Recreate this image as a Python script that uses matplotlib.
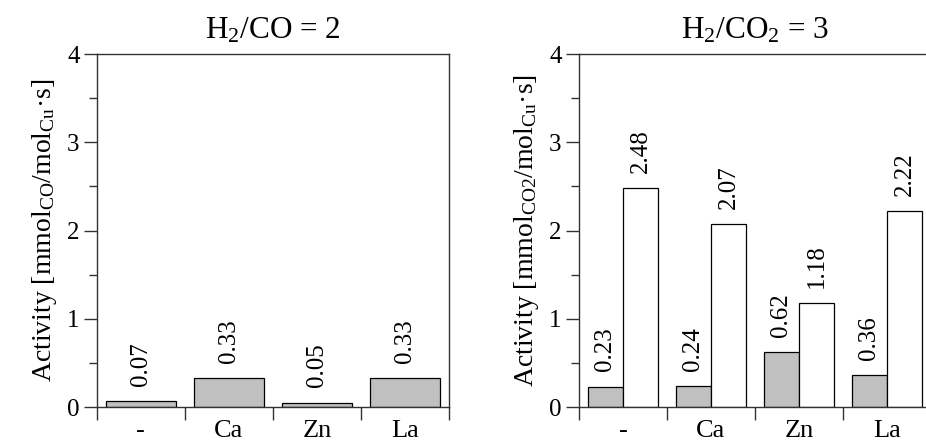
import matplotlib
matplotlib.use("Agg")
import matplotlib.pyplot as plt
import numpy as np
from matplotlib.ticker import MultipleLocator

plt.rcParams["font.family"] = ["Liberation Serif", "DejaVu Serif"]
plt.rcParams["mathtext.fontset"] = "custom"
plt.rcParams["mathtext.rm"] = "Liberation Serif"
plt.rcParams["mathtext.it"] = "Liberation Serif:italic"

# data
promoters = ["-", "Ca", "Zn", "La"]
co_activity = [0.07, 0.33, 0.05, 0.33]
co2_gray = [0.23, 0.24, 0.62, 0.36]
co2_white = [2.48, 2.07, 1.18, 2.22]

LINE = "#333333"
GRAY = "#c0c0c0"


def style_axes(ax, title, ylabel):
    ax.set_xlim(0, len(promoters))
    ax.set_ylim(0, 4)
    for s in ax.spines.values():
        s.set_color(LINE)
        s.set_linewidth(1.0)
    # category separators below axis, labels at centers
    ax.set_xticks(np.arange(len(promoters) + 1))
    ax.set_xticklabels([])
    ax.set_xticks(np.arange(len(promoters)) + 0.5, minor=True)
    ax.set_xticklabels(promoters, minor=True, fontsize=19)
    ax.tick_params(axis="x", which="major", direction="out", length=9.5,
                   width=1.0, color=LINE)
    ax.tick_params(axis="x", which="minor", length=0, pad=9)
    ax.yaxis.set_major_locator(MultipleLocator(1))
    ax.yaxis.set_minor_locator(MultipleLocator(0.5))
    ax.tick_params(axis="y", which="major", direction="out", length=9.5,
                   width=1.0, color=LINE, labelsize=18, pad=3)
    ax.tick_params(axis="y", which="minor", direction="out", length=5.5,
                   width=1.0, color=LINE)
    ax.set_title(title, fontsize=22.5, pad=11)
    ax.set_ylabel(ylabel, fontsize=20, labelpad=6)


def label_bars(ax, bars, values):
    for b, v in zip(bars, values):
        ax.annotate(f"{v:.2f}", (b.get_x() + b.get_width() / 2, v),
                    xytext=(0, 11), textcoords="offset points",
                    rotation=90, ha="center", va="bottom", fontsize=18)


fig = plt.figure(figsize=(9.26, 4.4), dpi=100)
ax1 = fig.add_axes([0.1047, 0.075, 0.380, 0.802])
ax2 = fig.add_axes([0.6253, 0.075, 0.380, 0.802])

x = np.arange(len(promoters)) + 0.5

b1 = ax1.bar(x, co_activity, width=0.8, color=GRAY, edgecolor="black",
             linewidth=0.9)
label_bars(ax1, b1, co_activity)
style_axes(ax1, r"H$_2$/CO = 2",
           r"Activity [mmol$_\mathrm{CO}$/mol$_\mathrm{Cu}$·s]")

b2a = ax2.bar(x - 0.2, co2_gray, width=0.4, color=GRAY, edgecolor="black",
              linewidth=0.9)
b2b = ax2.bar(x + 0.2, co2_white, width=0.4, color="white", edgecolor="black",
              linewidth=0.9)
label_bars(ax2, b2a, co2_gray)
label_bars(ax2, b2b, co2_white)
style_axes(ax2, r"H$_2$/CO$_2$ = 3",
           r"Activity [mmol$_\mathrm{CO2}$/mol$_\mathrm{Cu}$·s]")

fig.savefig("out.png", dpi=100)
